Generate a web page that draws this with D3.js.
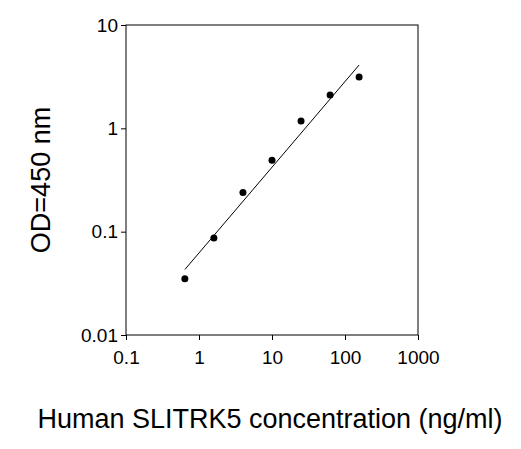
<!DOCTYPE html>
<html><head><meta charset="utf-8">
<script src="https://cdn.jsdelivr.net/npm/d3@7"></script>
<style>body{margin:0;background:#fff}</style></head>
<body><svg id="c" width="521" height="449"></svg>
<script>
const conc = [0.64, 1.6, 4, 10, 25, 62.5, 156];
const od = [0.035, 0.087, 0.24, 0.49, 1.18, 2.1, 3.14];
const fitX = [0.64, 156];
const fitY = [0.043, 4.1];
const xTicks = [0.1, 1, 10, 100, 1000];
const xTickLabels = ["0.1", "1", "10", "100", "1000"];
const yTicks = [0.01, 0.1, 1, 10];
const yTickLabels = ["0.01", "0.1", "1", "10"];

const svg = d3.select("#c");
const L = 126, R = 418, T = 25, B = 335;
const x = d3.scaleLog().domain([0.1, 1000]).range([L, R]);
const y = d3.scaleLog().domain([0.01, 10]).range([B, T]);
const font = "Arial, 'Liberation Sans', sans-serif";

svg.append("rect").attr("x", L).attr("y", T).attr("width", R - L).attr("height", B - T)
  .attr("fill", "none").attr("stroke", "#000").attr("stroke-width", 1);

const xa = svg.append("g").attr("transform", `translate(0,${B})`)
  .call(d3.axisBottom(x).tickValues(xTicks).tickFormat((d, i) => xTickLabels[i]).tickSize(5).tickSizeOuter(0));
const ya = svg.append("g").attr("transform", `translate(${L},0)`)
  .call(d3.axisLeft(y).tickValues(yTicks).tickFormat((d, i) => yTickLabels[i]).tickSize(5).tickSizeOuter(0));
[xa, ya].forEach(g => {
  g.select(".domain").remove();
  g.selectAll("text").attr("font-family", font).attr("font-size", 19).attr("fill", "#000");
});
xa.selectAll("text").attr("dy", "1.1em");

svg.append("line").attr("x1", x(fitX[0])).attr("y1", y(fitY[0]))
  .attr("x2", x(fitX[1])).attr("y2", y(fitY[1])).attr("stroke", "#000").attr("stroke-width", 1);

svg.selectAll("circle").data(conc).enter().append("circle")
  .attr("cx", d => x(d)).attr("cy", (d, i) => y(od[i])).attr("r", 3.5).attr("fill", "#000");

svg.append("text").attr("x", 270).attr("y", 428).attr("text-anchor", "middle")
  .attr("font-family", font).attr("font-size", 27).text("Human SLITRK5 concentration (ng/ml)");
svg.append("text").attr("transform", `translate(50,180) rotate(-90)`).attr("text-anchor", "middle")
  .attr("font-family", font).attr("font-size", 27).text("OD=450 nm");
</script></body></html>
